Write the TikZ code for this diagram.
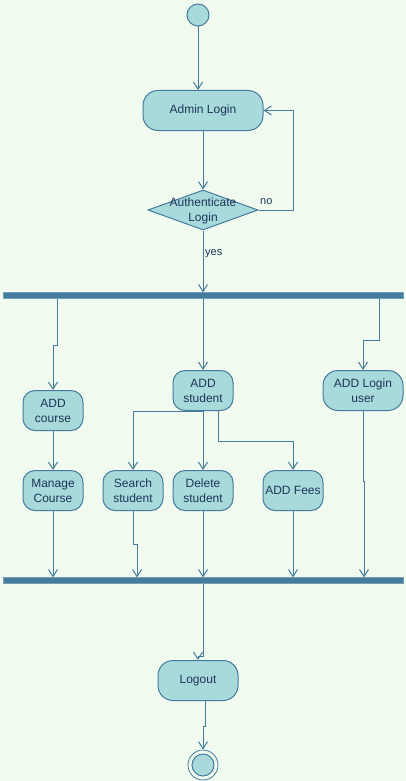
\documentclass[tikz,border=0pt]{standalone}
\usepackage{fontspec}
\setmainfont{Liberation Sans}
\usetikzlibrary{arrows.meta,shapes.geometric}
\definecolor{bgc}{HTML}{F1FAEE}
\definecolor{fillc}{HTML}{A8DADC}
\definecolor{strk}{HTML}{457B9D}
\definecolor{txtc}{HTML}{1D3557}
\begin{document}
\begin{tikzpicture}[x=1pt,y=-1pt,
 act/.style={draw=strk, fill=fillc, line width=1pt, rounded corners=12pt, minimum width=60pt, minimum height=40pt, inner sep=0pt, align=center, text=txtc, font=\fontsize{12}{15}\selectfont},
 arr/.style={draw=strk, line width=1pt, -{Straight Barb[length=7pt,width=9pt]}},
 bar/.style={fill=strk, draw=strk!75, line width=0.8pt, minimum width=400pt, minimum height=5.5pt, inner sep=0pt},
 lbl/.style={text=txtc, font=\fontsize{11}{13}\selectfont, inner sep=0pt},
 txt/.style={text=txtc, font=\fontsize{12}{15}\selectfont, inner sep=0pt, align=center}]
\fill[bgc] (0,0) rectangle (406,781);
\useasboundingbox (0,0) rectangle (406,781);

% nodes
\node[circle, fill=fillc, draw=strk, line width=1pt, minimum size=22pt, inner sep=0pt] (start) at (198,15) {};
\node[act, minimum width=120pt, rounded corners=15pt] (login) at (203,110.5) {Admin Login};
\node[diamond, draw=strk, fill=fillc, line width=1pt, minimum width=110pt, minimum height=40pt, inner sep=0pt] (auth) at (203,210) {};
\node[txt] (authtxt) at (203,211) {Authenticate\\Login};
\node[bar] (bar1) at (203,295.5) {};
\node[act] (course) at (53,410.5) {ADD\\course};
\node[act] (student) at (203,390.5) {ADD\\student};
\node[act, minimum width=80pt, rounded corners=15pt] (user) at (363,390.5) {ADD Login\\user};
\node[act] (manage) at (53,490.5) {Manage\\Course};
\node[act] (search) at (133,490.5) {Search\\student};
\node[act] (delete) at (203,490.5) {Delete\\student};
\node[act] (fees) at (293,490.5) {ADD Fees};
\node[bar] (bar2) at (203,580.5) {};
\node[act, minimum width=80pt, rounded corners=15pt] (logout) at (198,680.5) {Logout};
\node[circle, draw=strk, fill=bgc, line width=0.8pt, minimum size=30pt, inner sep=0pt] (end) at (203,765) {};
\node[circle, draw=strk, fill=fillc, line width=1pt, minimum size=22pt, inner sep=0pt] (endin) at (end) {};

% labels
\node[lbl, anchor=west] (nolbl) at (260,202) {no};
\node[lbl, anchor=west] (yeslbl) at (205,254) {yes};

% connectors
\draw[arr] (start.south) -- (login.north -| start.south);
\draw[arr] (login.south) -- (auth.north);
\draw[arr] (auth.east) -- ++(35,0) |- (login.east);
\draw[arr] (auth.south) -- (bar1.north);

\draw[arr] ([xshift=-146pt]bar1.south) -- ++(0,47) -| (course.north);
\draw[arr] (bar1.south) -- (student.north);
\draw[arr] ([xshift=176pt]bar1.south) -- ++(0,42) -| (user.north);

\draw[arr] (student.south) -| (search.north);
\draw[arr] (student.south) -- (delete.north);
\draw[arr] ([xshift=15pt]student.south) -- ++(0,30) -| (fees.north);
\draw[arr] (course.south) -- (manage.north);

\draw[arr] (manage.south) -- (bar2.north -| manage.south);
\draw[arr] (search.south) -- ++(0,33) -- ++(4,0) -- ([xshift=-66pt]bar2.north);
\draw[arr] (delete.south) -- (bar2.north);
\draw[arr] (fees.south) -- (bar2.north -| fees.south);
\draw[arr] (user.south) -- ++(0,70) -- ++(1,0) -- ([xshift=161pt]bar2.north);

\draw[arr] (bar2.south) -- ++(0,73) -| (logout.north);
\draw[arr] ([xshift=7pt]logout.south) -- ++(0,25) -| (end.north);
\end{tikzpicture}
\end{document}
